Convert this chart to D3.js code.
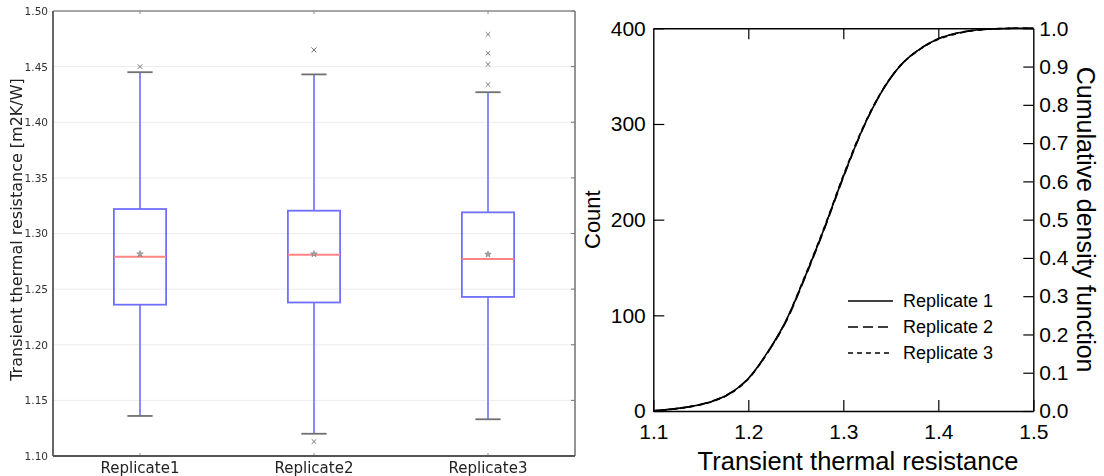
<!DOCTYPE html>
<html>
<head>
<meta charset="utf-8">
<script src="https://cdn.jsdelivr.net/npm/d3@7"></script>
<style>
  html, body { margin: 0; padding: 0; background: #fff; }
  svg { display: block; }
</style>
</head>
<body>
<svg id="chart" width="1104" height="476"></svg>
<script>
// ---- Box plot data (transient thermal resistance, m2K/W) ----
const categories   = ["Replicate1", "Replicate2", "Replicate3"];
const whiskerLow   = [1.136, 1.120, 1.133];
const quartile1    = [1.236, 1.238, 1.243];
const medians      = [1.279, 1.281, 1.277];
const quartile3    = [1.322, 1.3205, 1.319];
const whiskerHigh  = [1.445, 1.443, 1.427];
const means        = [1.2816, 1.2816, 1.2813];
const outliers     = [[1.450], [1.465, 1.465, 1.113], [1.479, 1.462, 1.452, 1.434]];
const boxTicks     = [1.10, 1.15, 1.20, 1.25, 1.30, 1.35, 1.40, 1.45, 1.50];

// ---- Cumulative curves (count of samples below a resistance) ----
const resistance   = [1.10, 1.12, 1.14, 1.16, 1.18, 1.20, 1.22, 1.24, 1.26, 1.28, 1.30, 1.32, 1.34, 1.36, 1.38, 1.40, 1.42, 1.44, 1.46, 1.48, 1.50];
const countRep1    = [0.3, 2.0, 4.8, 9.5, 18, 34, 61, 95, 141, 191, 245, 294, 333, 361, 378, 389, 395, 398.3, 399.5, 400, 400];
const countRep2    = [0.3, 2.0, 4.9, 9.7, 18.3, 34, 60.5, 94, 140, 190, 244, 293.5, 333, 361, 378, 389, 395, 398.3, 399.5, 400, 400];
const countRep3    = [0.2, 1.8, 4.6, 9.2, 17.6, 33.5, 60.5, 95, 142, 192, 246, 295, 333.5, 361, 377.5, 388.5, 394.5, 398, 399.4, 400, 400];
const seriesNames  = ["Replicate 1", "Replicate 2", "Replicate 3"];
const resTicks     = [1.1, 1.2, 1.3, 1.4, 1.5];
const countTicks   = [0, 100, 200, 300, 400];
const cdfTicks     = [0.0, 0.1, 0.2, 0.3, 0.4, 0.5, 0.6, 0.7, 0.8, 0.9, 1.0];

const svg = d3.select("#chart");

// =================== Left: box plots ===================
const defs = svg.append("defs");
defs.append("filter").attr("id", "soft")
  .attr("x", "-5%").attr("y", "-5%").attr("width", "110%").attr("height", "110%")
  .append("feGaussianBlur").attr("stdDeviation", 0.55);

const L = { left: 53, right: 575, top: 11, bottom: 456 };
const xB = d3.scaleBand().domain(categories).range([L.left, L.right]);
const yB = d3.scaleLinear().domain([1.10, 1.50]).range([L.bottom, L.top]);
const cx = c => xB(c) + xB.bandwidth() / 2;
const boxW = xB.bandwidth() * 0.3;
const capW = xB.bandwidth() * 0.145;

const gL = svg.append("g").attr("filter", "url(#soft)").style("font-family", "'DejaVu Sans', sans-serif");

// horizontal grid
gL.append("g").selectAll("line").data(boxTicks.slice(1, -1)).join("line")
  .attr("x1", L.left).attr("x2", L.right)
  .attr("y1", d => yB(d)).attr("y2", d => yB(d))
  .attr("stroke", "#ececec").attr("stroke-width", 1);

// y axis labels
const yAxisL = d3.axisLeft(yB).tickValues(boxTicks).tickFormat(d3.format(".2f")).tickSize(0).tickPadding(5);
gL.append("g").attr("transform", `translate(${L.left},0)`).call(yAxisL)
  .call(g => g.select(".domain").remove())
  .call(g => g.selectAll("text").attr("font-size", 10.5).attr("fill", "#333").attr("font-family", "'DejaVu Sans', sans-serif"));

// right-side inner ticks
gL.append("g").selectAll("line").data(boxTicks).join("line")
  .attr("x1", L.right - 4).attr("x2", L.right)
  .attr("y1", d => yB(d)).attr("y2", d => yB(d))
  .attr("stroke", "#777").attr("stroke-width", 1);

// top & bottom category ticks
gL.append("g").selectAll("line").data(categories).join("line")
  .attr("x1", cx).attr("x2", cx).attr("y1", L.top).attr("y2", L.top + 3)
  .attr("stroke", "#888").attr("stroke-width", 1);
gL.append("g").selectAll("line").data(categories).join("line")
  .attr("x1", cx).attr("x2", cx).attr("y1", L.bottom).attr("y2", L.bottom - 3)
  .attr("stroke", "#888").attr("stroke-width", 1);

// x category labels
const xAxisL = d3.axisBottom(xB).tickSize(0).tickPadding(6);
gL.append("g").attr("transform", `translate(0,${L.bottom})`).call(xAxisL)
  .call(g => g.select(".domain").remove())
  .call(g => g.selectAll("text").attr("font-size", 15).attr("fill", "#222").attr("font-family", "'DejaVu Sans', sans-serif"));

// y title
gL.append("text")
  .attr("transform", `translate(22,${(L.top + L.bottom) / 2 - 4}) rotate(-90)`)
  .attr("text-anchor", "middle")
  .attr("font-size", 16).attr("fill", "#222")
  .text("Transient thermal resistance [m2K/W]");

// boxes
const boxes = gL.append("g").selectAll("g").data(categories).join("g");
boxes.append("line") // lower whisker
  .attr("x1", cx).attr("x2", cx)
  .attr("y1", (c, i) => yB(whiskerLow[i])).attr("y2", (c, i) => yB(quartile1[i]))
  .attr("stroke", "#8a8aff").attr("stroke-width", 2);
boxes.append("line") // upper whisker
  .attr("x1", cx).attr("x2", cx)
  .attr("y1", (c, i) => yB(quartile3[i])).attr("y2", (c, i) => yB(whiskerHigh[i]))
  .attr("stroke", "#8a8aff").attr("stroke-width", 2);
boxes.append("rect")
  .attr("x", c => cx(c) - boxW / 2).attr("width", boxW)
  .attr("y", (c, i) => yB(quartile3[i]))
  .attr("height", (c, i) => yB(quartile1[i]) - yB(quartile3[i]))
  .attr("fill", "none").attr("stroke", "#7070ff").attr("stroke-width", 1.8);
boxes.append("line") // lower cap
  .attr("x1", c => cx(c) - capW / 2).attr("x2", c => cx(c) + capW / 2)
  .attr("y1", (c, i) => yB(whiskerLow[i])).attr("y2", (c, i) => yB(whiskerLow[i]))
  .attr("stroke", "#707070").attr("stroke-width", 1.8);
boxes.append("line") // upper cap
  .attr("x1", c => cx(c) - capW / 2).attr("x2", c => cx(c) + capW / 2)
  .attr("y1", (c, i) => yB(whiskerHigh[i])).attr("y2", (c, i) => yB(whiskerHigh[i]))
  .attr("stroke", "#707070").attr("stroke-width", 1.8);
boxes.append("line") // median
  .attr("x1", c => cx(c) - boxW / 2).attr("x2", c => cx(c) + boxW / 2)
  .attr("y1", (c, i) => yB(medians[i])).attr("y2", (c, i) => yB(medians[i]))
  .attr("stroke", "#ff8585").attr("stroke-width", 2);
boxes.append("path") // mean marker
  .attr("transform", (c, i) => `translate(${cx(c)},${yB(means[i])})`)
  .attr("d", d3.symbol(d3.symbolStar, 13))
  .attr("fill", "#aaa").attr("stroke", "#777").attr("stroke-width", 0.6);

// outliers as small crosses
const flierPts = categories.flatMap((c, i) => outliers[i].map(v => ({ c, v })));
gL.append("g").selectAll("path").data(flierPts).join("path")
  .attr("transform", d => `translate(${cx(d.c)},${yB(d.v)})`)
  .attr("d", "M-2.3,-2.3L2.3,2.3M-2.3,2.3L2.3,-2.3")
  .attr("stroke", "#777").attr("stroke-width", 1).attr("fill", "none");

// spines
gL.append("line").attr("x1", L.left).attr("x2", L.right).attr("y1", L.top).attr("y2", L.top)
  .attr("stroke", "#8a8a8a").attr("stroke-width", 1.6);
gL.append("line").attr("x1", L.right).attr("x2", L.right).attr("y1", L.top).attr("y2", L.bottom)
  .attr("stroke", "#7a7a7a").attr("stroke-width", 1.6);
gL.append("line").attr("x1", L.left).attr("x2", L.left).attr("y1", L.top).attr("y2", L.bottom)
  .attr("stroke", "#555").attr("stroke-width", 1.8);
gL.append("line").attr("x1", L.left).attr("x2", L.right).attr("y1", L.bottom).attr("y2", L.bottom)
  .attr("stroke", "#555").attr("stroke-width", 1.8);

// =================== Right: cumulative curves ===================
const R = { left: 653.3, right: 1033.3, top: 28.3, bottom: 411 };
const xR = d3.scaleLinear().domain([1.1, 1.5]).range([R.left, R.right]);
const yR = d3.scaleLinear().domain([0, 400]).range([R.bottom, R.top]);
const yC = d3.scaleLinear().domain([0, 1]).range([R.bottom, R.top]);

const gR = svg.append("g").style("font-family", "'Liberation Sans', Arial, sans-serif");
const styleAxis = (g, fs) => {
  g.select(".domain").attr("stroke", "#000").attr("stroke-width", 1.4);
  g.selectAll(".tick line").attr("stroke", "#000").attr("stroke-width", 1.2);
  g.selectAll("text").attr("font-size", fs).attr("fill", "#000").attr("font-family", "'Liberation Sans', Arial, sans-serif");
};

gR.append("g").attr("transform", `translate(${R.left},0)`)
  .call(d3.axisLeft(yR).tickValues(countTicks).tickFormat(d3.format("d")).tickSize(-11).tickSizeOuter(0).tickPadding(7.5))
  .call(g => styleAxis(g, 21));
gR.append("g").attr("transform", `translate(${R.right},0)`)
  .call(d3.axisRight(yC).tickValues(cdfTicks).tickFormat(d3.format(".1f")).tickSize(-10).tickSizeOuter(0).tickPadding(6))
  .call(g => styleAxis(g, 21));
gR.append("g").attr("transform", `translate(0,${R.bottom})`)
  .call(d3.axisBottom(xR).tickValues(resTicks).tickFormat(d3.format(".1f")).tickSize(-11).tickSizeOuter(0).tickPadding(13))
  .call(g => styleAxis(g, 21));
gR.append("g").attr("transform", `translate(0,${R.top})`)
  .call(d3.axisTop(xR).tickValues(resTicks.slice(1, -1)).tickSize(-11).tickSizeOuter(0).tickFormat(""))
  .call(g => styleAxis(g, 21));

// axis titles
gR.append("text").attr("x", 858).attr("y", 470)
  .attr("text-anchor", "middle").attr("font-size", 25.5).attr("fill", "#000")
  .text("Transient thermal resistance");
gR.append("text").attr("transform", `translate(600,${(R.top + R.bottom) / 2}) rotate(-90)`)
  .attr("text-anchor", "middle").attr("font-size", 22).attr("fill", "#000")
  .text("Count");
gR.append("text").attr("transform", `translate(1077,${(R.top + R.bottom) / 2}) rotate(90)`)
  .attr("text-anchor", "middle").attr("font-size", 25).attr("fill", "#000")
  .text("Cumulative density function");

// curves
const dashes = [null, "10,5", "5,4"];
const seriesData = [countRep1, countRep2, countRep3];
const line = d3.line().x(d => xR(d[0])).y(d => yR(d[1])).curve(d3.curveMonotoneX);
gR.append("g").selectAll("path").data([2, 1, 0]).join("path")
  .attr("d", i => line(resistance.map((r, k) => [r, seriesData[i][k]])))
  .attr("fill", "none").attr("stroke", "#000").attr("stroke-width", 1.6)
  .attr("stroke-dasharray", i => dashes[i]);

// legend
const legend = gR.append("g").attr("transform", "translate(848,301)");
const rows = legend.selectAll("g").data(seriesNames).join("g")
  .attr("transform", (d, i) => `translate(0,${i * 26})`);
rows.append("line").attr("x1", 0).attr("x2", 45).attr("y1", 0).attr("y2", 0)
  .attr("stroke", "#000").attr("stroke-width", 1.6)
  .attr("stroke-dasharray", (d, i) => dashes[i]);
rows.append("text").attr("x", 55).attr("y", 0).attr("dy", "0.35em")
  .attr("font-size", 18).attr("fill", "#000").text(d => d);
</script>
</body>
</html>
